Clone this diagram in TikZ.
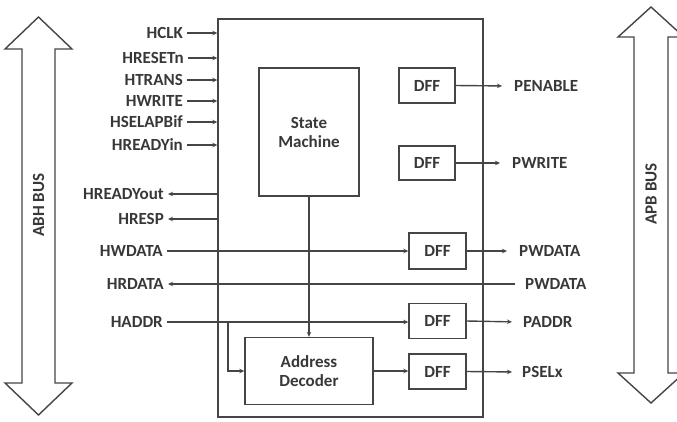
\documentclass[tikz,border=0pt]{standalone}
\usepackage{fontspec}
\setmainfont{Carlito}
\usetikzlibrary{arrows.meta}
\definecolor{lc}{HTML}{454545}
\definecolor{tc}{HTML}{383838}
\begin{document}
\begin{tikzpicture}[x=1pt,y=-1pt,
  ln/.style={draw=lc, line width=1.4pt},
  arr/.style={ln, -{Stealth[length=5pt,width=4.5pt]}},
  txt/.style={text=tc, font=\fontsize{17}{19}\selectfont\bfseries},
  lbl/.style={txt, inner sep=4pt},
  blk/.style={draw=lc, line width=1.4pt, fill=white, txt, align=center, inner sep=0pt},
  busarrow/.style={draw=lc, line width=1.4pt, fill=white}]
\useasboundingbox (0,0) rectangle (677,421);

% bus arrows
\draw[busarrow] (38.5,17) -- (72,49) -- (55,49) -- (55,383) -- (72,383) -- (38.5,415)
  -- (5,383) -- (22,383) -- (22,49) -- (5,49) -- cycle;
\node[txt, rotate=90] (abh) at (38.5,205) {ABH BUS};
\draw[busarrow] (651,7) -- (684,37) -- (668,37) -- (668,373) -- (684,373) -- (651,403)
  -- (618,373) -- (634,373) -- (634,37) -- (618,37) -- cycle;
\node[txt, rotate=90] (apb) at (651,194) {APB BUS};

% main box and blocks
\node[blk, minimum width=265pt, minimum height=398pt] (main) at (350.5,218) {};
\node[blk, minimum width=100pt, minimum height=128pt] (sm) at (309,132) {State\\Machine};
\node[blk, minimum width=128pt, minimum height=67pt] (ad) at (309,371) {Address\\Decoder};
\node[blk, minimum width=56pt, minimum height=35pt] (dff1) at (427,85.5) {DFF};
\node[blk, minimum width=56pt, minimum height=34pt] (dff2) at (427,163) {DFF};
\node[blk, minimum width=57pt, minimum height=36pt] (dff3) at (437.5,251) {DFF};
\node[blk, minimum width=57pt, minimum height=35pt] (dff4) at (437.5,321) {DFF};
\node[blk, minimum width=57pt, minimum height=35pt] (dff5) at (437.5,371.5) {DFF};

% left inputs
\node[lbl, anchor=east] (hclk) at (187,33) {HCLK};
\node[lbl, anchor=east] (hresetn) at (188,58) {HRESETn};
\node[lbl, anchor=east] (htrans) at (187,80) {HTRANS};
\node[lbl, anchor=east] (hwrite) at (187,101) {HWRITE};
\node[lbl, anchor=east] (hselapbif) at (187,122) {HSELAPBif};
\node[lbl, anchor=east] (hreadyin) at (187,145) {HREADYin};
\foreach \n in {hclk,hresetn,htrans,hwrite,hselapbif,hreadyin}
  \draw[arr] (\n.east) -- (\n.east -| main.west);

% left outputs / data
\node[lbl, anchor=east] (hreadyout) at (168,194) {HREADYout};
\node[lbl, anchor=east] (hresp) at (168,219) {HRESP};
\node[lbl, anchor=east] (hwdata) at (167,251) {HWDATA};
\node[lbl, anchor=east] (hrdata) at (168,284) {HRDATA};
\node[lbl, anchor=east] (haddr) at (167,322) {HADDR};
\draw[arr] (hreadyout.east -| main.west) -- (hreadyout.east);
\draw[arr] (hresp.east -| main.west) -- (hresp.east);

% right labels
\node[lbl, anchor=west] (penable) at (510,86) {PENABLE};
\node[lbl, anchor=west] (pwrite) at (508,163) {PWRITE};
\node[lbl, anchor=west] (pwdata) at (515,251) {PWDATA};
\node[lbl, anchor=west] (pwdata2) at (521,284) {PWDATA};
\node[lbl, anchor=west] (paddr) at (519,322) {PADDR};
\node[lbl, anchor=west] (pselx) at (518,372) {PSELx};

% connectors
\draw[arr] (hwdata.east) -- (dff3.west);
\draw[arr] (pwdata2.west) ++(-6,0) coordinate (rd) (rd) -- (hrdata.east);
\draw[arr] (haddr.east) -- (haddr.east -| dff4.west);
\coordinate (br) at (228,322);
\draw[arr] (br) |- (ad.west);
\draw[arr] (sm.south) -- (ad.north);
\draw[arr] (ad.east) -- (ad.east -| dff5.west);

\draw[arr, shorten >=8pt] (dff1.east) -- (penable.west);
\draw[arr, shorten >=8pt] (dff2.east) -- (pwrite.west);
\draw[arr, shorten >=8pt] (dff3.east) -- (pwdata.west);
\draw[arr, shorten >=7pt] (dff4.east) -- (paddr.west);
\draw[arr, shorten >=6pt] (dff5.east) -- (pselx.west);
\end{tikzpicture}
\end{document}
